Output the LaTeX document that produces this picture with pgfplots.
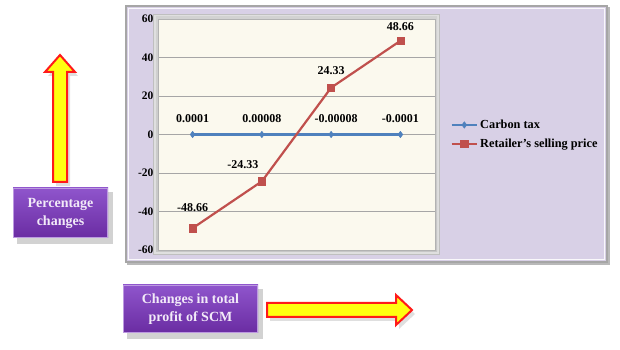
\documentclass[border=0pt]{standalone}
\usepackage{pgfplots}
\pgfplotsset{compat=1.18}
\usepackage{fontspec}
\setmainfont{Liberation Serif}
\usetikzlibrary{shadows}
\definecolor{lav}{HTML}{D8D0E6}
\definecolor{cream}{HTML}{FBF9EE}
\definecolor{cblue}{HTML}{4F81BD}
\definecolor{cred}{HTML}{C0504D}
\definecolor{ptop}{HTML}{8F55CC}
\definecolor{pbot}{HTML}{6A2CA2}
\definecolor{ptext}{HTML}{F2EAF8}
\definecolor{arrred}{HTML}{FF1A1A}
\definecolor{arryel}{HTML}{FFFF10}
\pgfplotstableread{
x y lab dx dy
0 0 0.0001 0 8
1 0 0.00008 0 8
2 0 -0.00008 5 8
3 0 -0.0001 0 8
}\carbon
\pgfplotstableread{
x y lab dx dy
0 -48.66 -48.66 0 13
1 -24.33 -24.33 -19 9
2 24.33 24.33 0 9
3 48.66 48.66 0 7
}\retail
\begin{document}
\begin{tikzpicture}[x=1pt,y=1pt]
\path[use as bounding box] (0,0) rectangle (620,350);
% outer chart frame
\fill[gray!55] (127,85) rectangle (610,343);
\fill[lav] (125,87) rectangle (608,345);
\draw[gray!70,line width=2pt] (126,88) rectangle (607,344);
\draw[white!85!lav,line width=1pt] (128.5,90.5) rectangle (604.5,341.5);
% plot area bevel
\fill[gray!50] (153,95) rectangle (440,336);
\fill[gray!25] (154,96) rectangle (439,335);
\shade[top color=white!65!gray, bottom color=gray!45] (156,98) rectangle (437,333);
% left arrow
\fill[gray!25] (56,164) -- (56,274) -- (48,274) -- (63,291) -- (78,274) -- (70,274) -- (70,164) -- cycle;
\draw[arrred,line width=2pt,fill=arryel,line join=miter] (53,168) -- (53,278) -- (45,278) -- (60,295) -- (75,278) -- (67,278) -- (67,168) -- cycle;
% bottom arrow
\fill[gray!25] (270,43) -- (399,43) -- (399,51) -- (415,36) -- (399,21) -- (399,29) -- (270,29) -- cycle;
\draw[arrred,line width=2pt,fill=arryel,line join=miter] (267,47) -- (396,47) -- (396,55) -- (412,40) -- (396,25) -- (396,33) -- (267,33) -- cycle;
% purple boxes
\fill[gray!35] (17,106) rectangle (113,158);
\shade[top color=ptop,bottom color=pbot] (13,112) rectangle (108,162);
\draw[white!40!ptop,line width=1pt] (13.5,112.5) rectangle (107.5,161.5);
\node[align=center,text=ptext,font=\bfseries\fontsize{14}{18}\selectfont] at (60.5,137) {Percentage\\changes};
\fill[gray!35] (127,11) rectangle (263,61);
\shade[top color=ptop,bottom color=pbot] (123,17) rectangle (258,65);
\draw[white!40!ptop,line width=1pt] (123.5,17.5) rectangle (257.5,64.5);
\node[align=center,text=ptext,font=\bfseries\fontsize{14}{18}\selectfont] at (190.5,41) {Changes in total\\profit of SCM};
\begin{axis}[
  at={(158pt,100pt)}, anchor=south west,
  width=277pt, height=231pt, scale only axis,
  xmin=-0.5, xmax=3.5, ymin=-60, ymax=60,
  xtick=\empty,
  ytick={-60,-40,...,60},
  ymajorgrids, grid style={gray!70, line width=0.6pt},
  major tick length=0pt,
  axis line style={gray!60},
  axis background/.style={fill=cream},
  /pgf/number format/assume math mode=true,
  yticklabel style={font=\bfseries\fontsize{11.5}{13}\selectfont, xshift=-1pt},
  clip=false,
  legend style={at={(1.055,0.5)}, anchor=west, draw=none, fill=none,
    font=\bfseries\fontsize{12.3}{14}\selectfont, row sep=5pt,
    inner sep=0pt, cells={anchor=west}},
  legend image code/.code={\draw[mark repeat=2,mark phase=2,#1] plot coordinates {(0cm,0cm) (0.45cm,0cm) (0.9cm,0cm)};},
  nodes near coords,
  point meta=explicit symbolic,
  visualization depends on={\thisrow{dx} \as \dx},
  visualization depends on={\thisrow{dy} \as \dy},
  every node near coord/.append style={font=\bfseries\fontsize{12}{13}\selectfont, text=black, xshift=\dx pt, yshift=\dy pt},
]
\addplot[cblue, line width=2.2pt, mark=diamond*, mark size=3.2pt, mark options={fill=cblue,draw=cblue,line width=0.5pt}] table[x=x,y=y,meta=lab] {\carbon};
\addlegendentry{Carbon tax}
\addplot[cred, line width=2.2pt, mark=square*, mark size=3.6pt, mark options={fill=cred,draw=cred,line width=0.5pt}] table[x=x,y=y,meta=lab] {\retail};
\addlegendentry{Retailer’s selling price}
\end{axis}
\end{tikzpicture}
\end{document}
